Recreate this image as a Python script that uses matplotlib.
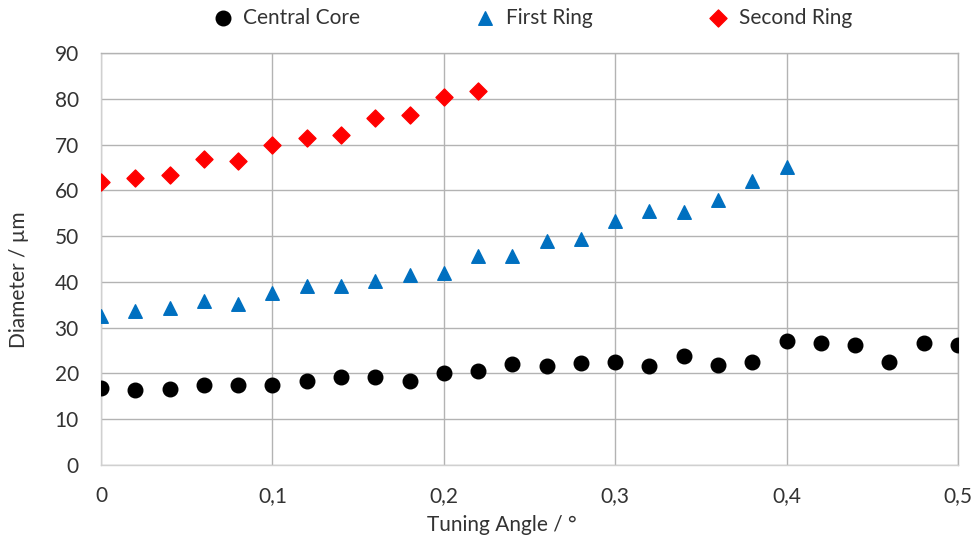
import matplotlib
matplotlib.use("Agg")
import matplotlib.pyplot as plt
from matplotlib.ticker import FuncFormatter

# tuning angle (deg) and measured diameters (um)
angle_core = [0.00, 0.02, 0.04, 0.06, 0.08, 0.10, 0.12, 0.14, 0.16, 0.18, 0.20, 0.22, 0.24,
              0.26, 0.28, 0.30, 0.32, 0.34, 0.36, 0.38, 0.40, 0.42, 0.44, 0.46, 0.48, 0.50]
core = [16.8, 16.3, 16.6, 17.4, 17.5, 17.4, 18.4, 19.2, 19.2, 18.3, 20.0, 20.6, 22.0,
        21.6, 22.3, 22.5, 21.7, 23.8, 21.9, 22.6, 27.1, 26.6, 26.2, 22.5, 26.6, 26.2]

angle_ring1 = [0.00, 0.02, 0.04, 0.06, 0.08, 0.10, 0.12, 0.14, 0.16, 0.18, 0.20, 0.22, 0.24,
               0.26, 0.28, 0.30, 0.32, 0.34, 0.36, 0.38, 0.40]
ring1 = [32.6, 33.7, 34.2, 35.8, 35.2, 37.6, 39.2, 39.2, 40.3, 41.4, 41.9, 45.7, 45.6,
         48.9, 49.4, 53.2, 55.4, 55.2, 57.9, 62.1, 65.1]

angle_ring2 = [0.00, 0.02, 0.04, 0.06, 0.08, 0.10, 0.12, 0.14, 0.16, 0.18, 0.20, 0.22]
ring2 = [61.8, 62.6, 63.4, 66.8, 66.4, 70.0, 71.4, 72.0, 75.9, 76.5, 80.4, 81.8]

TXT = "#333333"
GRID = "#b3b3b3"

plt.rcParams["font.family"] = ["Lato", "DejaVu Sans"]

fig = plt.figure(figsize=(9.77, 5.39), dpi=100)
ax = fig.add_axes([101 / 977, 1 - 465 / 539, (958 - 101) / 977, (465 - 53) / 539])

ax.scatter(angle_core, core, s=110, marker="o", color="black", label="Central Core", zorder=3)
ax.scatter(angle_ring1, ring1, s=95, marker="^", color="#0070C0", label="First Ring", zorder=3)
ax.scatter(angle_ring2, ring2, s=75, marker="D", color="#FF0000", label="Second Ring", zorder=3)

ax.set_xlim(0, 0.5)
ax.set_ylim(0, 90)
ax.set_xticks([0, 0.1, 0.2, 0.3, 0.4, 0.5])
ax.set_yticks(range(0, 91, 10))
ax.xaxis.set_major_formatter(FuncFormatter(lambda v, p: "0" if v == 0 else f"{v:.1f}".replace(".", ",")))
ax.grid(True, color=GRID, lw=1.0, zorder=0)
ax.tick_params(length=0, labelsize=15, colors=TXT)
ax.tick_params(axis="x", pad=15)
ax.tick_params(axis="y", pad=16)
for s in ax.spines.values():
    s.set_color(GRID)
    s.set_linewidth(1.0)
ax.spines["bottom"].set_color("#d0d0d0")
ax.spines["left"].set_color("#d0d0d0")

ax.set_xlabel("Tuning Angle / °", fontsize=15, color=TXT, va="center")
ax.set_ylabel("Diameter / µm", fontsize=15, color=TXT, va="center")
ax.xaxis.set_label_coords(0.468, -0.146)
ax.yaxis.set_label_coords(-0.096, 0.451)

leg = ax.legend(loc="lower center", bbox_to_anchor=(0.497, 1.026), ncol=3, frameon=False,
                fontsize=15, columnspacing=5.0, handletextpad=0.0, markerscale=1.0,
                borderaxespad=0.3)
for t in leg.get_texts():
    t.set_color(TXT)

fig.savefig("out.png", dpi=100)
